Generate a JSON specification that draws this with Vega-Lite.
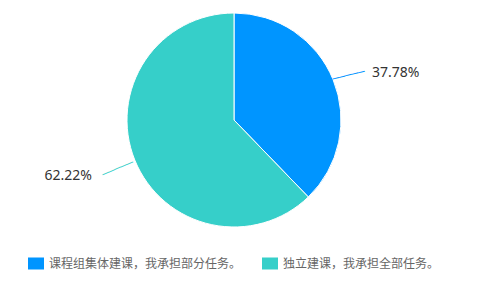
{
  "$schema": "https://vega.github.io/schema/vega-lite/v6.json",
  "width": 468,
  "height": 240,
  "autosize": "none",
  "padding": {"left": 0, "top": 0, "right": 20, "bottom": 51},
  "background": "white",
  "data": {
    "values": [
      {"category": "课程组集体建课，我承担部分任务。", "value": 37.78, "label": "37.78%"},
      {"category": "独立建课，我承担全部任务。", "value": 62.22, "label": "62.22%"}
    ]
  },
  "encoding": {
    "theta": {"field": "value", "type": "quantitative", "stack": true},
    "order": {"field": "value", "type": "quantitative", "sort": "ascending"}
  },
  "layer": [
    {
      "mark": {"type": "arc", "outerRadius": 107, "stroke": "white", "strokeWidth": 1},
      "encoding": {
        "color": {
          "field": "category",
          "type": "nominal",
          "scale": {
            "domain": ["课程组集体建课，我承担部分任务。", "独立建课，我承担全部任务。"],
            "range": ["#0095ff", "#36cfc9"]
          },
          "legend": {
            "orient": "none",
            "direction": "horizontal",
            "legendX": 28,
            "legendY": 255.5,
            "title": null,
            "padding": 0,
            "symbolType": "M-1,-0.75H1V0.75H-1Z",
            "symbolSize": 256,
            "symbolStrokeWidth": 0,
            "symbolOpacity": 1,
            "labelOffset": 5,
            "columnPadding": 20,
            "labelFont": "Noto Sans CJK SC",
            "labelFontSize": 12,
            "labelColor": "#666666",
            "labelLimit": 400
          }
        }
      }
    },
    {
      "mark": {"type": "text", "radius": 123, "text": "─────", "font": "DejaVu Sans Mono", "fontSize": 11, "angle": 346, "dy": 2, "color": "#0095ff"},
      "encoding": {
        "opacity": {"condition": {"test": "datum.value < 50", "value": 1}, "value": 0}
      }
    },
    {
      "mark": {"type": "text", "radius": 126, "text": "─────", "font": "DejaVu Sans Mono", "fontSize": 11, "angle": 337, "dy": 2, "color": "#36cfc9"},
      "encoding": {
        "opacity": {"condition": {"test": "datum.value > 50", "value": 1}, "value": 0}
      }
    },
    {
      "mark": {"type": "text", "radius": 150, "align": "left", "baseline": "middle", "dy": 9, "dx": -1, "font": "Noto Sans", "fontSize": 14, "color": "#333333"},
      "encoding": {
        "text": {"field": "label"},
        "opacity": {"condition": {"test": "datum.value < 50", "value": 1}, "value": 0}
      }
    },
    {
      "mark": {"type": "text", "radius": 150, "align": "right", "baseline": "middle", "dx": -3, "font": "Noto Sans", "fontSize": 14, "color": "#333333"},
      "encoding": {
        "text": {"field": "label"},
        "opacity": {"condition": {"test": "datum.value > 50", "value": 1}, "value": 0}
      }
    }
  ]
}
